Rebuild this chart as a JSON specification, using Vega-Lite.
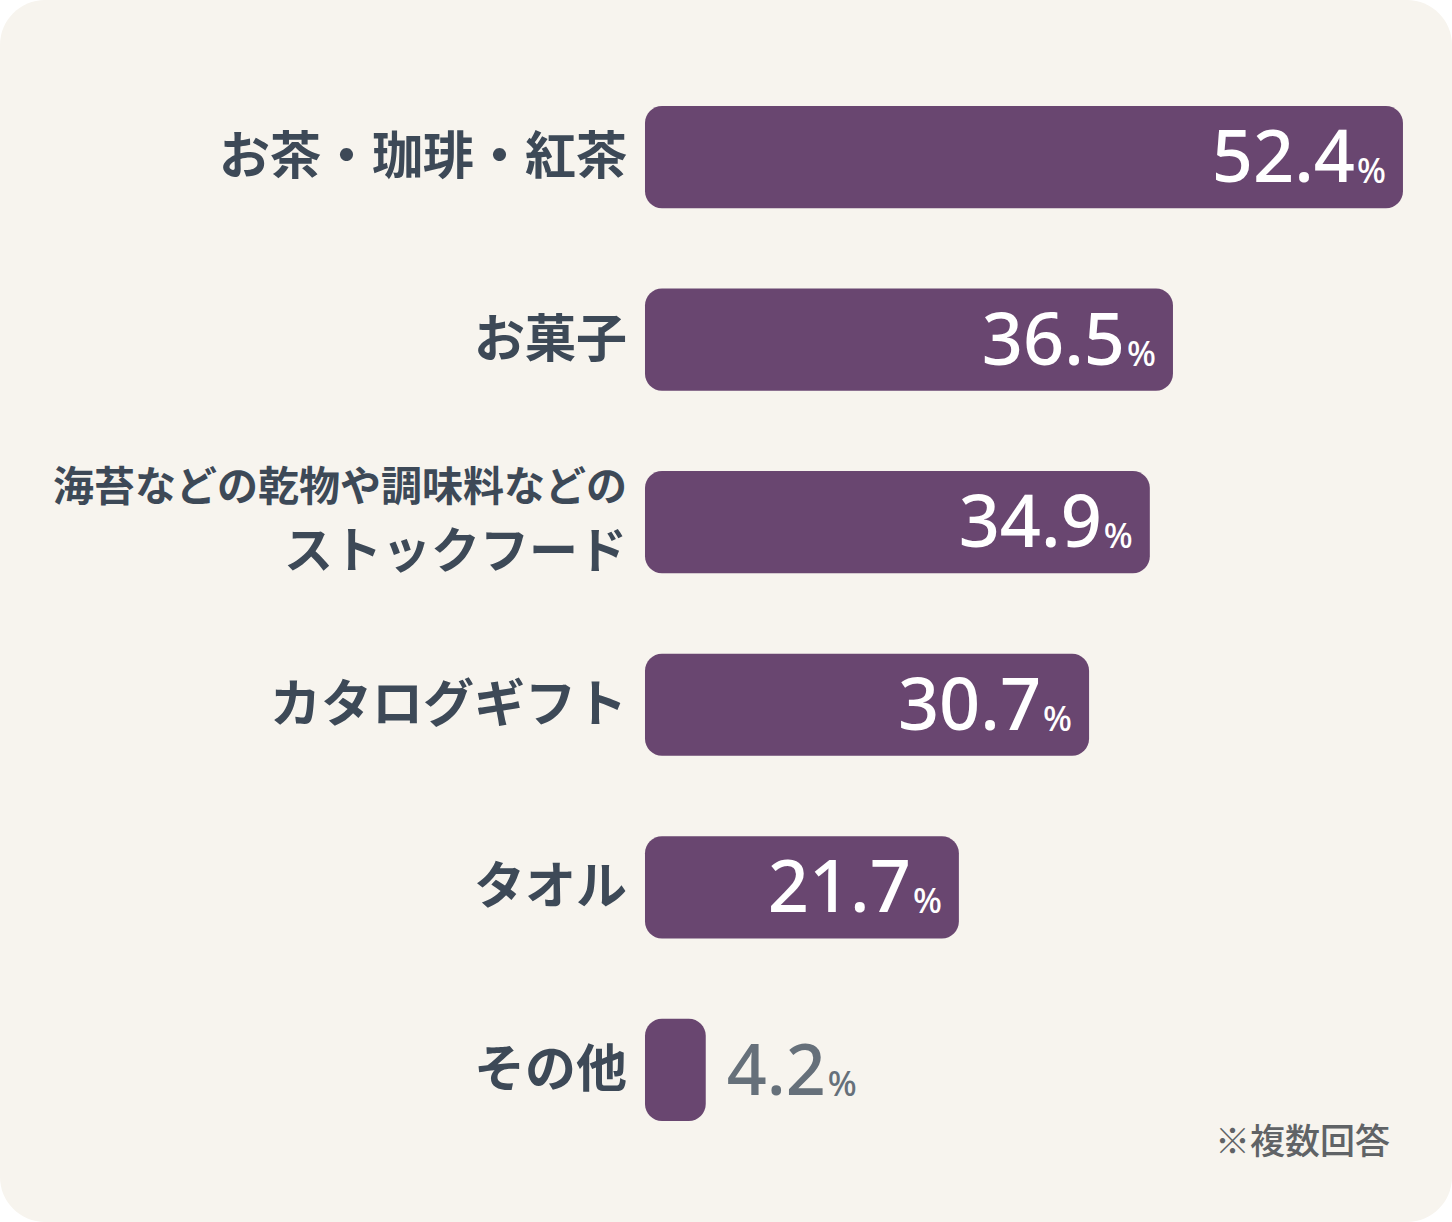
{
  "$schema": "https://vega.github.io/schema/vega-lite/v6.json",
  "width": 1452,
  "height": 1222,
  "padding": 0,
  "autosize": {"type": "fit", "contains": "padding"},
  "background": "#ffffff",
  "config": {
    "view": {"fill": "#f7f4ee", "stroke": null, "cornerRadius": 45},
    "font": "Noto Sans CJK JP"
  },
  "data": {
    "values": [
      {"item": "お茶・珈琲・紅茶", "sub": "", "value": 52.4},
      {"item": "お菓子", "sub": "", "value": 36.5},
      {"item": "ストックフード", "sub": "海苔などの乾物や調味料などの", "value": 34.9},
      {"item": "カタログギフト", "sub": "", "value": 30.7},
      {"item": "タオル", "sub": "", "value": 21.7},
      {"item": "その他", "sub": "", "value": 4.2}
    ]
  },
  "encoding": {
    "y": {
      "field": "item",
      "type": "nominal",
      "sort": null,
      "axis": null,
      "scale": {"paddingInner": 0.44, "paddingOuter": 0.567, "align": 0.512}
    }
  },
  "layer": [
    {
      "mark": {"type": "bar", "color": "#694670", "cornerRadius": 17},
      "encoding": {
        "x": {
          "field": "value",
          "type": "quantitative",
          "axis": null,
          "scale": {"domain": [-44.59, 55.79], "zero": false, "nice": false}
        },
        "x2": {"datum": 0}
      }
    },
    {
      "transform": [{"filter": "datum.sub == ''"}],
      "mark": {"type": "text", "align": "right", "baseline": "middle", "dx": -18, "dy": 2, "fontSize": 51, "fontWeight": 600, "color": "#3d4957"},
      "encoding": {
        "x": {"datum": 0},
        "text": {"field": "item"}
      }
    },
    {
      "transform": [{"filter": "datum.sub != ''"}],
      "mark": {"type": "text", "align": "right", "baseline": "middle", "dx": -18, "dy": 31, "fontSize": 49, "fontWeight": 600, "color": "#3d4957"},
      "encoding": {
        "x": {"datum": 0},
        "text": {"field": "item"}
      }
    },
    {
      "transform": [{"filter": "datum.sub != ''"}],
      "mark": {"type": "text", "align": "right", "baseline": "middle", "dx": -18, "dy": -33, "fontSize": 41, "fontWeight": 600, "color": "#3d4957"},
      "encoding": {
        "x": {"datum": 0},
        "text": {"field": "sub"}
      }
    },
    {
      "transform": [{"filter": "datum.value >= 10"}],
      "mark": {"type": "text", "align": "right", "baseline": "alphabetic", "dx": -48, "dy": 25, "fontSize": 72, "fontWeight": 500, "font": "Noto Sans", "color": "#ffffff"},
      "encoding": {
        "x": {"field": "value", "type": "quantitative"},
        "text": {"field": "value", "type": "quantitative", "format": ".1f"}
      }
    },
    {
      "transform": [{"filter": "datum.value >= 10"}],
      "mark": {"type": "text", "align": "right", "baseline": "alphabetic", "dx": -17, "dy": 26, "fontSize": 34, "fontWeight": 500, "font": "Noto Sans", "color": "#ffffff", "text": "%"},
      "encoding": {
        "x": {"field": "value", "type": "quantitative"}
      }
    },
    {
      "transform": [{"filter": "datum.value < 10"}],
      "mark": {"type": "text", "align": "left", "baseline": "alphabetic", "dx": 21, "dy": 25, "fontSize": 70, "fontWeight": 500, "font": "Noto Sans", "color": "#66707a"},
      "encoding": {
        "x": {"field": "value", "type": "quantitative"},
        "text": {"field": "value", "type": "quantitative", "format": ".1f"}
      }
    },
    {
      "transform": [{"filter": "datum.value < 10"}],
      "mark": {"type": "text", "align": "left", "baseline": "alphabetic", "dx": 122, "dy": 26, "fontSize": 34, "fontWeight": 500, "font": "Noto Sans", "color": "#66707a", "text": "%"},
      "encoding": {
        "x": {"field": "value", "type": "quantitative"}
      }
    },
    {
      "data": {"values": [{"note": "※複数回答"}]},
      "mark": {"type": "text", "align": "right", "baseline": "middle", "dy": 73, "fontSize": 35, "fontWeight": 500, "color": "#606366"},
      "encoding": {
        "x": {"datum": 51.5},
        "y": {"datum": "その他"},
        "text": {"field": "note"}
      }
    }
  ]
}
